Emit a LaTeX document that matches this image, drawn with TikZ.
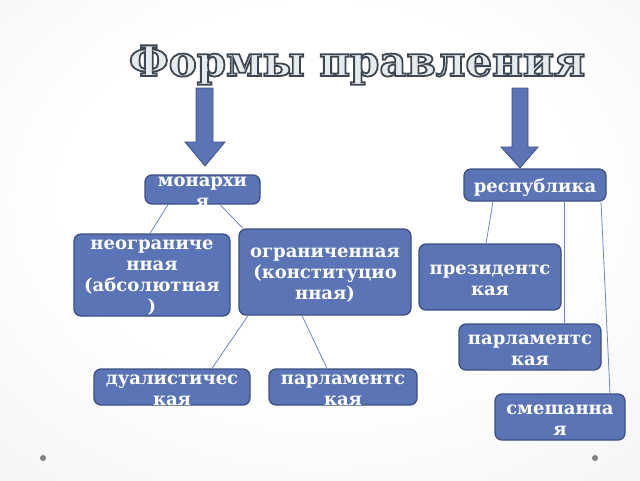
\documentclass[tikz,border=0pt]{standalone}
\usepackage{fontspec}
\setmainfont{DejaVu Serif}
\usepackage{tikz}
\usetikzlibrary{calc}

\definecolor{boxblue}{RGB}{91,116,182}
\definecolor{boxedge}{RGB}{62,80,130}
\definecolor{linkblue}{RGB}{112,134,198}
\definecolor{titlefill}{RGB}{230,235,238}
\definecolor{pagemid}{RGB}{238,238,238}
\definecolor{pagegray}{RGB}{216,216,216}
\pgfdeclareradialshading{pagebg}{\pgfpoint{0bp}{6bp}}{color(0bp)=(white); color(20bp)=(white); color(50bp)=(pagemid); color(75bp)=(pagegray)}

% outlined letters (fill + stroke)
\newcommand{\outlined}[1]{\special{pdf:literal direct 2 Tr 1.8 w 0.24 0.28 0.32 RG}#1\special{pdf:literal direct 0 Tr}}

\tikzset{
  formbox/.style={draw=boxedge, line width=1.3pt, fill=boxblue, rounded corners=7pt, inner sep=0pt},
  boxtext/.style={text=white, font=\fontsize{18}{21}\selectfont\bfseries, align=center, yshift=-3pt},
  link/.style={linkblue, line width=0.8pt},
  bigarrow/.style={fill=boxblue, draw=boxedge, line width=0.8pt},
  titletext/.style={font=\fontsize{42}{46}\selectfont\bfseries, anchor=base, inner sep=0pt},
}

\begin{document}
\begin{tikzpicture}[x=1pt, y=-1pt]
  \shade[shading=pagebg] (0,0) rectangle (640,480);
  \useasboundingbox (0,0) rectangle (640,480);

  % title
  \node[titletext, text=titlefill] (title) at (357,76) {\outlined{Формы правления}};

  % block arrows
  \draw[bigarrow] (196,88) -- (213,88) -- (213,142) -- (225,142) -- (205,166) -- (185,142) -- (196,142) -- cycle;
  \draw[bigarrow] (512,88) -- (528,88) -- (528,147) -- (538,147) -- (520,168) -- (501,147) -- (512,147) -- cycle;

  % boxes
  \node[formbox, minimum width=115pt, minimum height=29pt, label={[boxtext]center:монархи\\я}] (mon) at (202.5,189.5) {};
  \node[formbox, minimum width=142pt, minimum height=32pt, label={[boxtext]center:республика}] (rep) at (535,185) {};
  \node[formbox, minimum width=156pt, minimum height=82pt, label={[boxtext]center:неограниче\\нная\\(абсолютная\\)}] (neo) at (152,275) {};
  \node[formbox, minimum width=172pt, minimum height=86pt, label={[boxtext]center:ограниченная\\(конституцио\\нная)}] (ogr) at (325,272) {};
  \node[formbox, minimum width=156pt, minimum height=36pt, label={[boxtext]center:дуалистичес\\кая}] (dua) at (172,387) {};
  \node[formbox, minimum width=148pt, minimum height=36pt, label={[boxtext]center:парламентс\\кая}] (parl) at (343,387) {};
  \node[formbox, minimum width=142pt, minimum height=66pt, label={[boxtext]center:президентс\\кая}] (pre) at (490,277) {};
  \node[formbox, minimum width=142pt, minimum height=46pt, label={[boxtext]center:парламентс\\кая}] (parr) at (530,347) {};
  \node[formbox, minimum width=130pt, minimum height=46pt, label={[boxtext]center:смешанна\\я}] (sme) at (560,417) {};

  % links
  \draw[link] ([xshift=-34.5pt]mon.south) -- ([xshift=-2pt]neo.north);
  \draw[link] ([xshift=17.5pt]mon.south) -- ([xshift=-82pt]ogr.north);
  \draw[link] ([xshift=-77pt]ogr.south) -- ([xshift=40pt]dua.north);
  \draw[link] ([xshift=-23pt]ogr.south) -- ([xshift=-16pt]parl.north);
  \draw[link] ([xshift=-42pt]rep.south) -- ([xshift=-4pt]pre.north);
  \draw[link] ([xshift=29pt]rep.south) -- ([xshift=34pt]parr.north);
  \draw[link] ([xshift=66pt]rep.south) -- ([xshift=50pt]sme.north);

  % page dots
  \fill[gray] (43,458) circle (3);
  \fill[gray] (595,458) circle (3);
\end{tikzpicture}
\end{document}
